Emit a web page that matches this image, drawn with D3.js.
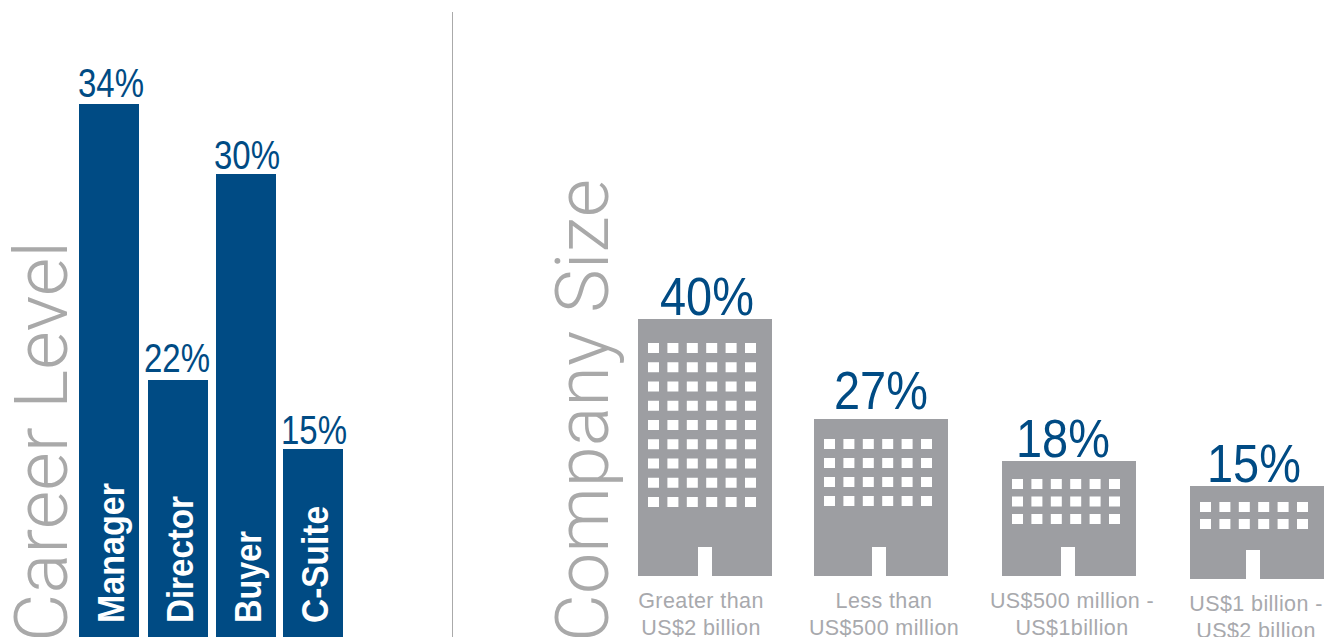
<!DOCTYPE html>
<html>
<head>
<meta charset="utf-8">
<script src="https://cdnjs.cloudflare.com/ajax/libs/d3/7.8.5/d3.min.js"></script>
<style>
html,body{margin:0;padding:0;background:#fff;overflow:hidden}
svg{display:block}
</style>
</head>
<body>
<svg id="chart" width="1324" height="637"></svg>
<script>
// Career level data
const careerLevels = ["Manager", "Director", "Buyer", "C-Suite"];
const careerValues = [34, 22, 30, 15];

// Company size data
const sizeValues = [40, 27, 18, 15];
const sizeLabels = [
  ["Greater than", "US$2 billion"],
  ["Less than", "US$500 million"],
  ["US$500 million -", "US$1billion"],
  ["US$1 billion -", "US$2 billion"]
];
const windowRows = [9, 4, 3, 2];

const BLUE = "#004b84", GREY = "#9d9ea2", TEXT_GREY = "#a8a9ad", TITLE_GREY = "#a9a9a9";
const svg = d3.select("#chart");

// Infographic-style scales: the percentages are stepped through fixed stops
const barX = d3.scaleOrdinal().domain(careerLevels).range([79, 148, 216, 283]);
const barY = d3.scaleLinear().domain([15, 22, 30, 34]).range([449, 380, 174, 104]);
const barBottom = 637, barWidth = 60;

// Helper for text squeezed to a known run length
function fit(sel, len) {
  return sel.attr("textLength", len).attr("lengthAdjust", "spacingAndGlyphs");
}

// Divider between the two panels
svg.append("line").attr("x1", 452.5).attr("x2", 452.5).attr("y1", 12).attr("y2", 637)
  .attr("stroke", "#aaaaaa").attr("stroke-width", 1);

// Panel titles
const titleFont = "Roboto, 'Liberation Sans', sans-serif";
function title(text, x, y, len) {
  fit(svg.append("text")
    .attr("transform", `translate(${x},${y}) rotate(-90)`)
    .attr("font-family", titleFont).attr("font-weight", 300)
    .attr("font-size", 74).attr("fill", TITLE_GREY)
    .text(text), len);
}
title("Career Level", 67, 642, 401);
title("Company Size", 608, 642, 463);

// Career level bars
const bars = svg.append("g").selectAll("g").data(careerLevels).join("g");
bars.append("rect")
  .attr("x", d => barX(d))
  .attr("y", (d, i) => barY(careerValues[i]))
  .attr("width", barWidth)
  .attr("height", (d, i) => barBottom - barY(careerValues[i]))
  .attr("fill", BLUE);

const barLabelLen = [140, 127, 92, 117];
bars.append("text")
  .attr("transform", d => `translate(${barX(d) + 45},623) rotate(-90)`)
  .attr("font-family", "'Liberation Sans', sans-serif").attr("font-weight", 700)
  .attr("font-size", 37).attr("fill", "#fff")
  .text(d => d)
  .each(function (d, i) { fit(d3.select(this), barLabelLen[i]); });

const barValueGap = [7, 8, 5, 5];
const barValueCx = [111, 177, 247, 314];
bars.append("text")
  .attr("x", (d, i) => barValueCx[i])
  .attr("y", (d, i) => barY(careerValues[i]) - barValueGap[i])
  .attr("text-anchor", "middle")
  .attr("font-family", "'Liberation Sans', sans-serif")
  .attr("font-size", 40).attr("fill", BLUE)
  .text((d, i) => careerValues[i] + "%")
  .each(function () { fit(d3.select(this), 66); });

// Company size buildings
const sizeIdx = d3.range(sizeValues.length);
const buildingX = d3.scaleOrdinal().domain(sizeIdx).range([638, 814, 1002, 1190]);
const buildingH = d3.scaleLinear().domain([15, 18, 27, 40]).range([93, 115, 157, 257]);
const buildingBase = [576, 576, 576, 579];
const buildingW = 134;
const doorX = [60, 58, 59, 56];
const windowTop = [24, 20, 18, 16];
const windowPitch = [19.25, 19, 17.5, 17];
const valueGap = [4, 10, 4, 4];
const windowCol = d3.scalePoint().domain(d3.range(6)).range([10, 107]);

const buildings = svg.append("g").selectAll("g").data(sizeIdx).join("g")
  .attr("transform", i => `translate(${buildingX(i)},${buildingBase[i] - buildingH(sizeValues[i])})`);

buildings.append("rect")
  .attr("width", buildingW)
  .attr("height", i => buildingH(sizeValues[i]))
  .attr("fill", GREY);

// Doorway, open at the base of each building
buildings.append("rect")
  .attr("x", i => doorX[i]).attr("width", 14)
  .attr("y", i => buildingH(sizeValues[i]) - 29)
  .attr("height", 29.5)
  .attr("fill", "#fff");

// Grid of lit windows
buildings.each(function (i) {
  const cells = d3.cross(d3.range(windowRows[i]), d3.range(6));
  d3.select(this).selectAll("rect.win").data(cells).join("rect")
    .attr("class", "win")
    .attr("x", d => windowCol(d[1]))
    .attr("y", d => windowTop[i] + d[0] * windowPitch[i])
    .attr("width", 11).attr("height", 10)
    .attr("fill", "#fff");
});

const labelCx = [701, 884, 1072, 1256];
const valueCx = [707, 881, 1063, 1254];
sizeIdx.forEach(i => {
  const top = buildingBase[i] - buildingH(sizeValues[i]);
  fit(svg.append("text")
    .attr("x", valueCx[i]).attr("y", top - valueGap[i])
    .attr("text-anchor", "middle")
    .attr("font-family", "'Liberation Sans', sans-serif")
    .attr("font-size", 54).attr("fill", BLUE)
    .text(sizeValues[i] + "%"), 94);
  sizeLabels[i].forEach((line, j) => {
    svg.append("text")
      .attr("x", labelCx[i]).attr("y", buildingBase[i] + 32 + j * 27)
      .attr("text-anchor", "middle")
      .attr("font-family", "'Liberation Sans', sans-serif")
      .attr("font-size", 21.5).attr("letter-spacing", 0.4).attr("fill", TEXT_GREY)
      .text(line);
  });
});
</script>
</body>
</html>
